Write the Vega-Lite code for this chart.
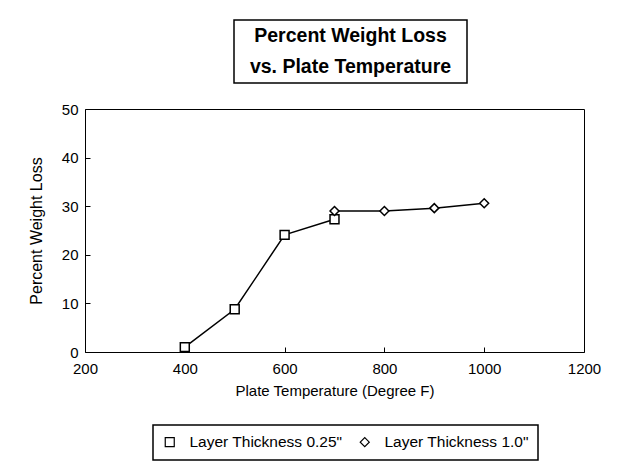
{
  "$schema": "https://vega.github.io/schema/vega-lite/v6.json",
  "padding": {"left": 27, "top": 19, "right": 5, "bottom": 5},
  "background": "white",
  "config": {
    "font": "Liberation Sans",
    "view": {"stroke": "black", "strokeWidth": 1},
    "axis": {
      "domain": false,
      "grid": false,
      "tickColor": "black",
      "tickSize": 5,
      "tickWidth": 1,
      "offset": -5,
      "labelFont": "Liberation Sans",
      "labelFontSize": 15,
      "labelColor": "black",
      "titleFont": "Liberation Sans",
      "titleFontSize": 15,
      "titleFontWeight": "normal",
      "titleColor": "black"
    },
    "legend": {
      "labelFont": "Liberation Sans",
      "labelFontSize": 15.5,
      "labelColor": "black"
    }
  },
  "spacing": 17,
  "vconcat": [
    {
      "spacing": 0,
      "hconcat": [
        {
          "width": 148,
          "height": 63,
          "view": {"stroke": null},
          "data": {"values": [{"t": ""}]},
          "mark": {"type": "text"},
          "encoding": {"text": {"field": "t", "type": "nominal"}}
        },
        {
          "width": 233,
          "height": 63,
          "view": {"stroke": "black", "strokeWidth": 1.5},
          "data": {"values": [
            {"line": 1, "text": "Percent Weight Loss"},
            {"line": 2, "text": "vs. Plate Temperature"}
          ]},
          "mark": {"type": "text", "font": "Liberation Sans", "fontSize": 19.5, "fontWeight": "bold", "color": "black", "baseline": "middle"},
          "encoding": {
            "y": {"field": "line", "type": "ordinal", "axis": null, "scale": {"type": "point", "padding": 0.5}},
            "text": {"field": "text", "type": "nominal"}
          }
        }
      ]
    },
    {
      "width": 499,
      "height": 243,
      "data": {"values": [
        {"temp": 400, "loss": 1.0, "series": "Layer Thickness 0.25\""},
        {"temp": 500, "loss": 8.8, "series": "Layer Thickness 0.25\""},
        {"temp": 600, "loss": 24.1, "series": "Layer Thickness 0.25\""},
        {"temp": 700, "loss": 27.3, "series": "Layer Thickness 0.25\""},
        {"temp": 700, "loss": 29.0, "series": "Layer Thickness 1.0\""},
        {"temp": 800, "loss": 29.0, "series": "Layer Thickness 1.0\""},
        {"temp": 900, "loss": 29.6, "series": "Layer Thickness 1.0\""},
        {"temp": 1000, "loss": 30.6, "series": "Layer Thickness 1.0\""}
      ]},
      "encoding": {
        "x": {
          "field": "temp", "type": "quantitative",
          "scale": {"domain": [200, 1200], "nice": false},
          "axis": {"title": "Plate Temperature (Degree F)", "values": [200, 400, 600, 800, 1000, 1200], "format": "d", "labelPadding": 9, "titlePadding": 7, "labelFlush": false}
        },
        "y": {
          "field": "loss", "type": "quantitative",
          "scale": {"domain": [0, 50], "nice": false},
          "axis": {"title": "Percent Weight Loss", "titleFontSize": 16, "values": [0, 10, 20, 30, 40, 50], "format": "d", "labelPadding": 7, "titlePadding": 17}
        }
      },
      "layer": [
        {
          "mark": {"type": "line", "strokeWidth": 1.5},
          "encoding": {
            "color": {
              "field": "series", "type": "nominal",
              "scale": {"domain": ["Layer Thickness 0.25\"", "Layer Thickness 1.0\""], "range": ["black", "black"]},
              "legend": {
                "title": null,
                "orient": "none",
                "legendX": 68,
                "legendY": 405,
                "direction": "horizontal",
                "strokeColor": "black",
                "fillColor": "white",
                "padding": 9,
                "columnPadding": 14,
                "labelOffset": 12,
                "symbolSize": 81,
                "encode": {
                  "legend": {"update": {"strokeWidth": {"value": 1.5}}},
                  "symbols": {
                    "update": {
                      "stroke": {"value": "black"},
                      "fill": {"value": "white"},
                      "opacity": {"value": 1},
                      "strokeWidth": {"value": 1.2}
                    }
                  }
                }
              }
            }
          }
        },
        {
          "mark": {"type": "point", "filled": true, "fill": "white", "stroke": "black", "strokeWidth": 1.5, "size": 80, "opacity": 1},
          "encoding": {
            "shape": {
              "field": "series", "type": "nominal",
              "scale": {"domain": ["Layer Thickness 0.25\"", "Layer Thickness 1.0\""], "range": ["square", "diamond"]},
              "legend": null
            }
          }
        }
      ]
    }
  ]
}
